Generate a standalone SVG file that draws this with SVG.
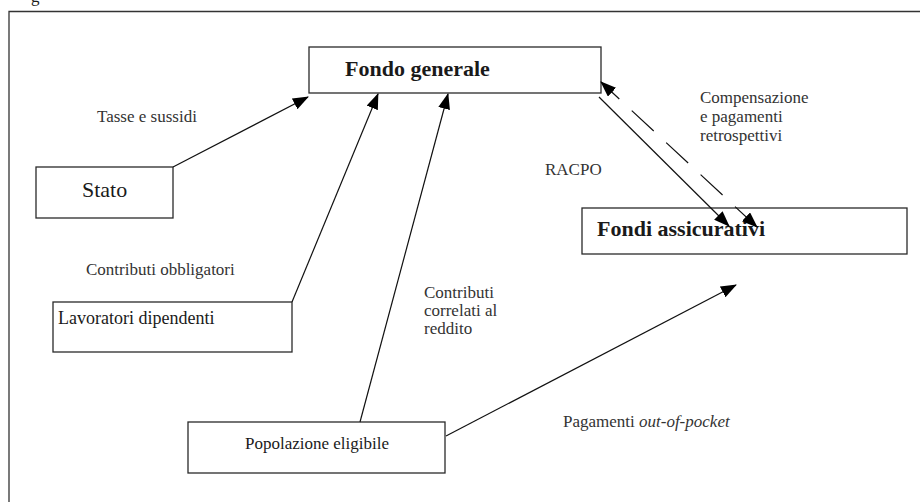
<svg xmlns="http://www.w3.org/2000/svg" width="920" height="502" viewBox="0 0 920 502">
<style>
.box{fill:#fff;stroke:#2a2a2a;stroke-width:1.3}
.t{font-family:"Liberation Serif","Times New Roman",serif;fill:#1a1a1a}
.b{font-weight:bold;font-size:22px}
.lbl{font-size:17px;fill:#333}
.ln{stroke:#111;stroke-width:1.2;fill:none}
</style>
<defs>
<marker id="ah" viewBox="0 0 16 12" refX="15" refY="6" markerWidth="16" markerHeight="12" markerUnits="userSpaceOnUse" orient="auto">
<path d="M0,0 L16,6 L0,12 z" fill="#000"/>
</marker>
<marker id="ahs" viewBox="0 0 16 12" refX="15" refY="6" markerWidth="16" markerHeight="12" markerUnits="userSpaceOnUse" orient="auto-start-reverse">
<path d="M0,0 L16,6 L0,12 z" fill="#000"/>
</marker>
</defs>
<rect width="920" height="502" fill="#fff"/>
<text class="t" x="31" y="2" font-size="17">g</text>
<path d="M9,502 L9,11.5 L920,11.5" fill="none" stroke="#333" stroke-width="1.3"/>

<g id="fondo-generale">
<rect class="box" x="309" y="47" width="292" height="46"/>
<text class="t b" x="345" y="76">Fondo generale</text>
</g>
<g id="stato">
<rect class="box" x="36" y="167" width="137" height="51"/>
<text class="t" x="82" y="197" font-size="22">Stato</text>
</g>
<g id="fondi-assicurativi">
<rect class="box" x="582" y="208" width="325" height="46"/>
<text class="t b" x="597" y="236">Fondi assicurativi</text>
</g>
<g id="lavoratori">
<rect class="box" x="53" y="302" width="239" height="50"/>
<text class="t" x="58" y="324" font-size="18">Lavoratori dipendenti</text>
</g>
<g id="popolazione">
<rect class="box" x="188" y="422" width="257" height="51"/>
<text class="t" x="245" y="449" font-size="17">Popolazione eligibile</text>
</g>

<g id="connectors">
<line class="ln" x1="173" y1="167" x2="308" y2="97" marker-end="url(#ah)"/>
<line class="ln" x1="292" y1="302" x2="378" y2="94" marker-end="url(#ah)"/>
<line class="ln" x1="360" y1="422" x2="448" y2="94" marker-end="url(#ah)"/>
<line class="ln" x1="446" y1="436" x2="736" y2="285" marker-end="url(#ah)"/>
<line class="ln" x1="599" y1="97" x2="729" y2="226" marker-end="url(#ah)"/>
<line class="ln" x1="757" y1="227" x2="601" y2="82" stroke-dasharray="30 17" marker-start="url(#ahs)" marker-end="url(#ah)"/>
</g>

<g id="labels">
<text class="t lbl" x="97" y="122">Tasse e sussidi</text>
<text class="t lbl" x="86" y="275">Contributi obbligatori</text>
<text class="t lbl"><tspan x="424" y="298">Contributi</tspan><tspan x="424" y="316">correlati al</tspan><tspan x="424" y="334">reddito</tspan></text>
<text class="t lbl" x="545" y="175">RACPO</text>
<text class="t lbl"><tspan x="700" y="103">Compensazione</tspan><tspan x="700" y="122">e pagamenti</tspan><tspan x="700" y="141">retrospettivi</tspan></text>
<text class="t lbl" x="563" y="427">Pagamenti <tspan font-style="italic">out-of-pocket</tspan></text>
</g>
</svg>
